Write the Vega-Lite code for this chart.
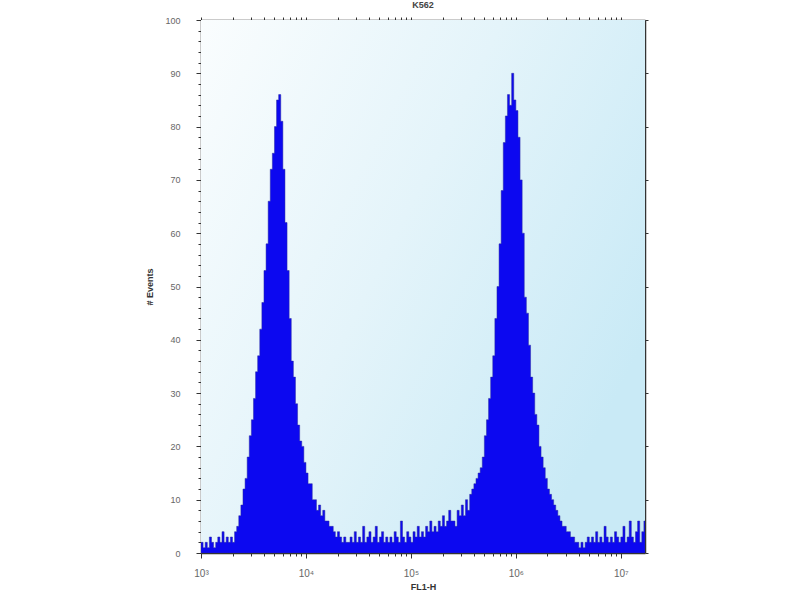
{
  "$schema": "https://vega.github.io/schema/vega-lite/v6.json",
  "autosize": "none",
  "width": 444,
  "height": 533,
  "padding": {"left": 201, "top": 20, "right": 155, "bottom": 47},
  "background": "white",
  "config": {
    "view": {"stroke": null},
    "font": "Liberation Sans",
    "axis": {"domainColor": "#333333", "domainWidth": 1.5, "tickColor": "#333333", "labelColor": "#666666", "labelFontSize": 9, "titleFontSize": 9, "titleFontWeight": "bold", "titleColor": "#333333", "grid": false}
  },
  "title": {"text": "K562", "fontSize": 9, "fontWeight": "bold", "color": "#444444", "font": "Liberation Sans", "offset": 6},
  "datasets": {
    "hist": [
      {"x":1000,"y":2},{"x":1047,"y":1},{"x":1096,"y":2},{"x":1148,"y":1},{"x":1202,"y":3},{"x":1259,"y":2},{"x":1318,"y":1},{"x":1380,"y":2},{"x":1445,"y":3},{"x":1514,"y":2},
      {"x":1585,"y":4},{"x":1660,"y":2},{"x":1738,"y":3},{"x":1820,"y":2},{"x":1905,"y":3},{"x":1995,"y":2},{"x":2089,"y":4},{"x":2188,"y":5},{"x":2291,"y":7},{"x":2399,"y":9},
      {"x":2512,"y":12},{"x":2630,"y":14},{"x":2754,"y":18},{"x":2884,"y":22},{"x":3020,"y":25},{"x":3162,"y":29},{"x":3311,"y":34},{"x":3467,"y":37},{"x":3631,"y":42},{"x":3802,"y":47},
      {"x":3981,"y":53},{"x":4169,"y":58},{"x":4365,"y":66},{"x":4571,"y":72},{"x":4786,"y":75},{"x":5012,"y":80},{"x":5248,"y":85},{"x":5495,"y":86},{"x":5754,"y":81},{"x":6026,"y":72},
      {"x":6310,"y":62},{"x":6607,"y":53},{"x":6918,"y":44},{"x":7244,"y":36},{"x":7586,"y":33},{"x":7943,"y":28},{"x":8318,"y":24},{"x":8710,"y":21},{"x":9120,"y":20},{"x":9550,"y":17},
      {"x":10000,"y":15},{"x":10471,"y":13},{"x":10965,"y":13},{"x":11482,"y":10},{"x":12023,"y":10},{"x":12589,"y":8},{"x":13183,"y":9},{"x":13804,"y":7},{"x":14454,"y":8},{"x":15136,"y":6},
      {"x":15849,"y":6},{"x":16596,"y":5},{"x":17378,"y":5},{"x":18197,"y":4},{"x":19055,"y":3},{"x":19953,"y":4},{"x":20893,"y":3},{"x":21878,"y":2},{"x":22909,"y":3},{"x":23988,"y":2},
      {"x":25119,"y":2},{"x":26303,"y":3},{"x":27542,"y":2},{"x":28840,"y":4},{"x":30200,"y":2},{"x":31623,"y":3},{"x":33113,"y":2},{"x":34674,"y":5},{"x":36308,"y":2},{"x":38019,"y":3},
      {"x":39811,"y":4},{"x":41687,"y":2},{"x":43652,"y":3},{"x":45709,"y":5},{"x":47863,"y":2},{"x":50119,"y":3},{"x":52481,"y":4},{"x":54954,"y":2},{"x":57544,"y":3},{"x":60256,"y":2},
      {"x":63096,"y":3},{"x":66069,"y":2},{"x":69183,"y":4},{"x":72444,"y":3},{"x":75858,"y":2},{"x":79433,"y":6},{"x":83176,"y":3},{"x":87096,"y":2},{"x":91201,"y":4},{"x":95499,"y":3},
      {"x":100000,"y":2},{"x":104713,"y":4},{"x":109648,"y":3},{"x":114815,"y":5},{"x":120226,"y":3},{"x":125893,"y":4},{"x":131826,"y":3},{"x":138038,"y":5},{"x":144544,"y":4},{"x":151356,"y":6},
      {"x":158489,"y":4},{"x":165959,"y":5},{"x":173780,"y":4},{"x":181970,"y":6},{"x":190546,"y":5},{"x":199526,"y":7},{"x":208930,"y":5},{"x":218776,"y":6},{"x":229087,"y":8},{"x":239883,"y":6},
      {"x":251189,"y":6},{"x":263027,"y":5},{"x":275423,"y":8},{"x":288403,"y":7},{"x":301995,"y":9},{"x":316228,"y":7},{"x":331131,"y":10},{"x":346737,"y":8},{"x":363078,"y":11},{"x":380189,"y":12},
      {"x":398107,"y":13},{"x":416869,"y":14},{"x":436516,"y":15},{"x":457088,"y":16},{"x":478630,"y":18},{"x":501187,"y":22},{"x":524807,"y":25},{"x":549541,"y":29},{"x":575440,"y":33},{"x":602560,"y":37},
      {"x":630957,"y":44},{"x":660693,"y":50},{"x":691831,"y":58},{"x":724436,"y":68},{"x":758578,"y":77},{"x":794328,"y":82},{"x":831764,"y":86},{"x":870964,"y":84},{"x":912011,"y":90},{"x":954993,"y":85},
      {"x":1000000,"y":83},{"x":1047129,"y":78},{"x":1096478,"y":70},{"x":1148154,"y":60},{"x":1202264,"y":48},{"x":1258925,"y":45},{"x":1318257,"y":39},{"x":1380384,"y":33},{"x":1445440,"y":30},{"x":1513561,"y":26},
      {"x":1584893,"y":24},{"x":1659587,"y":20},{"x":1737801,"y":18},{"x":1819701,"y":16},{"x":1905461,"y":14},{"x":1995262,"y":12},{"x":2089296,"y":11},{"x":2187762,"y":10},{"x":2290868,"y":9},{"x":2398833,"y":8},
      {"x":2511886,"y":7},{"x":2630268,"y":6},{"x":2754229,"y":5},{"x":2884032,"y":5},{"x":3019952,"y":4},{"x":3162278,"y":4},{"x":3311311,"y":3},{"x":3467369,"y":3},{"x":3630781,"y":2},{"x":3801894,"y":2},
      {"x":3981072,"y":1},{"x":4168694,"y":2},{"x":4365158,"y":1},{"x":4570882,"y":2},{"x":4786301,"y":3},{"x":5011872,"y":2},{"x":5248075,"y":3},{"x":5495409,"y":2},{"x":5754399,"y":4},{"x":6025596,"y":2},
      {"x":6309573,"y":3},{"x":6606934,"y":2},{"x":6918310,"y":5},{"x":7244360,"y":3},{"x":7585776,"y":2},{"x":7943282,"y":3},{"x":8317638,"y":2},{"x":8709636,"y":4},{"x":9120108,"y":3},{"x":9549926,"y":2},
      {"x":10000000,"y":3},{"x":10471285,"y":5},{"x":10964782,"y":2},{"x":11481536,"y":3},{"x":12022644,"y":6},{"x":12589254,"y":3},{"x":13182567,"y":2},{"x":13803843,"y":4},{"x":14454398,"y":6},{"x":15135612,"y":2},
      {"x":15848932,"y":4},{"x":16595869,"y":6},{"x":17000000,"y":6}
    ]
  },
  "layer": [
    {
      "data": {"values": [{"bg": 1}]},
      "mark": {"type": "rect", "color": {"gradient": "linear", "x1": 0, "y1": 0, "x2": 1, "y2": 0.6, "stops": [{"offset": 0, "color": "#fafdfe"}, {"offset": 0.5, "color": "#e4f4fa"}, {"offset": 1, "color": "#c9eaf6"}]}},
      "encoding": {}
    },
    {
      "data": {"name": "hist"},
      "mark": {"type": "area", "interpolate": "step-after", "color": "#0c08f0", "stroke": "#2a2aa0", "strokeWidth": 0.5, "clip": true},
      "encoding": {
        "x": {"field": "x", "type": "quantitative", "scale": {"type": "log", "domain": [1000, 17000000], "nice": false},
          "axis": {"title": "FL1-H", "values": [1000,2000,3000,4000,5000,6000,7000,8000,9000,10000,20000,30000,40000,50000,60000,70000,80000,90000,100000,200000,300000,400000,500000,600000,700000,800000,900000,1000000,2000000,3000000,4000000,5000000,6000000,7000000,8000000,9000000,10000000],
            "labelExpr": "abs(log(datum.value)/LN10 - round(log(datum.value)/LN10)) < 0.001 ? '10' + ['⁰','¹','²','³','⁴','⁵','⁶','⁷'][round(log(datum.value)/LN10)] : ''",
            "labelOverlap": false, "labelFlush": false, "labelPadding": 10, "labelFontSize": 10, "titlePadding": 4,
            "tickSize": {"condition": {"test": "abs(log(datum.value)/LN10 - round(log(datum.value)/LN10)) < 0.001", "value": 5}, "value": 3}}},
        "y": {"field": "y", "type": "quantitative", "scale": {"domain": [0, 100], "nice": false},
          "axis": {"title": "# Events", "values": [0,2,4,6,8,10,12,14,16,18,20,22,24,26,28,30,32,34,36,38,40,42,44,46,48,50,52,54,56,58,60,62,64,66,68,70,72,74,76,78,80,82,84,86,88,90,92,94,96,98,100],
            "labelExpr": "datum.value % 10 == 0 ? datum.label : ''", "labelOverlap": false, "labelFlush": false, "labelPadding": 16, "titlePadding": 10,
            "tickSize": {"condition": {"test": "datum.value % 10 == 0", "value": 5}, "value": 3}}}
      }
    },
    {
      "data": {"name": "hist"},
      "mark": {"type": "point", "opacity": 0},
      "encoding": {
        "x": {"field": "x", "type": "quantitative", "axis": {"orient": "top", "title": null, "labels": false, "values": [1000,2000,3000,4000,5000,6000,7000,8000,9000,10000,20000,30000,40000,50000,60000,70000,80000,90000,100000,200000,300000,400000,500000,600000,700000,800000,900000,1000000,2000000,3000000,4000000,5000000,6000000,7000000,8000000,9000000,10000000], "tickSize": 3}},
        "y": {"field": "y", "type": "quantitative", "axis": {"orient": "right", "title": null, "labels": false, "values": [0,10,20,30,40,50,60,70,80,90,100], "tickSize": 3}}
      }
    }
  ],
  "resolve": {"axis": {"x": "independent", "y": "independent"}}
}
